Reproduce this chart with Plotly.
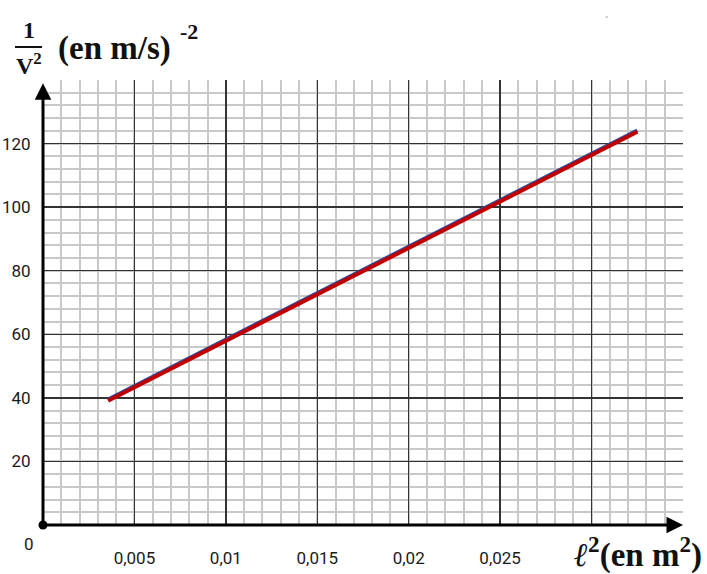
import plotly.graph_objects as go

# ---- data ----
x_fit = [0.00356, 0.0325]
y_fit = [39.1, 123.7]
x_data = [0.00356, 0.0325]
y_data = [39.5, 124.1]

x_tick_vals = [0.005, 0.01, 0.015, 0.02, 0.025, 0.03, 0.035]
x_tick_text = ["0,005", "0,01", "0,015", "0,02", "0,025", "", ""]
y_tick_vals = [0, 20, 40, 60, 80, 100, 120, 140]
y_tick_text = ["", "20", "40", "60", "80", "100", "120", ""]

W, H = 707, 574
L, R, T, B = 43, 24, 80, 49
PW, PH = W - L - R, H - T - B


def px(x):
    return (x - L) / PW


def py(y):
    return (H - B - y) / PH


fig = go.Figure()
fig.add_trace(go.Scatter(x=x_data, y=y_data, mode="lines",
                         line=dict(color="#2c4a9a", width=4), hoverinfo="skip"))
fig.add_trace(go.Scatter(x=x_fit, y=y_fit, mode="lines",
                         line=dict(color="#c00000", width=4), hoverinfo="skip"))
fig.add_trace(go.Scatter(x=[0], y=[0], mode="markers", cliponaxis=False,
                         marker=dict(color="black", size=9), hoverinfo="skip"))

tickfont = dict(family="Liberation Sans Narrow, Arial Narrow, Roboto, sans-serif",
                size=17, color="#1a1a1a")

fig.update_xaxes(range=[0, 0.035], tickmode="array", tickvals=x_tick_vals,
                 ticktext=x_tick_text, showgrid=True, gridcolor="#333", gridwidth=1.5,
                 zeroline=False, showline=False, ticks="outside", ticklen=18,
                 tickcolor="rgba(0,0,0,0)", tickfont=tickfont, automargin=False,
                 minor=dict(tickmode="linear", tick0=0, dtick=0.001, showgrid=True,
                            gridcolor="#c8c8c8", gridwidth=2, ticks=""))
fig.update_yaxes(range=[0, 140], tickmode="array", tickvals=y_tick_vals,
                 ticktext=y_tick_text, showgrid=True, gridcolor="#333", gridwidth=1.5,
                 zeroline=False, showline=False, ticks="outside", ticklen=8,
                 tickcolor="rgba(0,0,0,0)", tickfont=tickfont, automargin=False,
                 minor=dict(tickmode="linear", tick0=0, dtick=4, showgrid=True,
                            gridcolor="#c8c8c8", gridwidth=2, ticks=""))

serif = "Liberation Serif, Times New Roman, serif"
ann = [
    # axis arrows
    dict(x=0.035, y=0, ax=0, ay=0, xref="x", yref="y", axref="x", ayref="y",
         text="", showarrow=True, arrowhead=2, arrowwidth=3, arrowsize=1.1,
         arrowcolor="black"),
    dict(x=0, y=139, ax=0, ay=0, xref="x", yref="y", axref="x", ayref="y",
         text="", showarrow=True, arrowhead=2, arrowwidth=3, arrowsize=1.1,
         arrowcolor="black"),
    # origin label
    dict(x=px(29), y=py(544), xref="paper", yref="paper", text="0", showarrow=False,
         font=tickfont, xanchor="center", yanchor="middle"),
    # y title
    dict(x=px(28.5), y=py(30), xref="paper", yref="paper", text="<b>1</b>",
         showarrow=False, font=dict(family=serif, size=24, color="#111"),
         xanchor="center", yanchor="middle"),
    dict(x=px(28.5), y=py(64), xref="paper", yref="paper", text="<b>V<sup>2</sup></b>",
         showarrow=False, font=dict(family=serif, size=24, color="#111"),
         xanchor="center", yanchor="middle"),
    dict(x=px(56), y=py(48), xref="paper", yref="paper", text="<b>(en m/s)</b>",
         showarrow=False, font=dict(family=serif, size=33, color="#111"),
         xanchor="left", yanchor="middle"),
    dict(x=px(178), y=py(32), xref="paper", yref="paper", text="<b>-2</b>",
         showarrow=False, font=dict(family=serif, size=22, color="#111"),
         xanchor="left", yanchor="middle"),
    # x title
    dict(x=px(704), y=py(552), xref="paper", yref="paper",
         text="<b><i>ℓ</i><sup>2</sup>(en m<sup>2</sup>)</b>",
         showarrow=False, font=dict(family=serif, size=33, color="#111"),
         xanchor="right", yanchor="middle"),
    # small stray mark
    dict(x=px(606), y=py(21), xref="paper", yref="paper", text="ˊ",
         showarrow=False, font=dict(family=serif, size=10, color="#666"),
         xanchor="center", yanchor="middle"),
]

fig.update_layout(
    width=W, height=H, margin=dict(l=L, r=R, t=T, b=B, autoexpand=False),
    paper_bgcolor="white", plot_bgcolor="white", showlegend=False,
    annotations=ann,
    shapes=[dict(type="line", xref="paper", yref="paper",
                 x0=px(15), x1=px(42), y0=py(47), y1=py(47),
                 line=dict(color="#111", width=2))],
)

fig.write_html("out.html",
               config={"displayModeBar": False, "staticPlot": True},
               post_script="document.body.style.margin='0px';"
                           "document.body.style.overflow='hidden';")
